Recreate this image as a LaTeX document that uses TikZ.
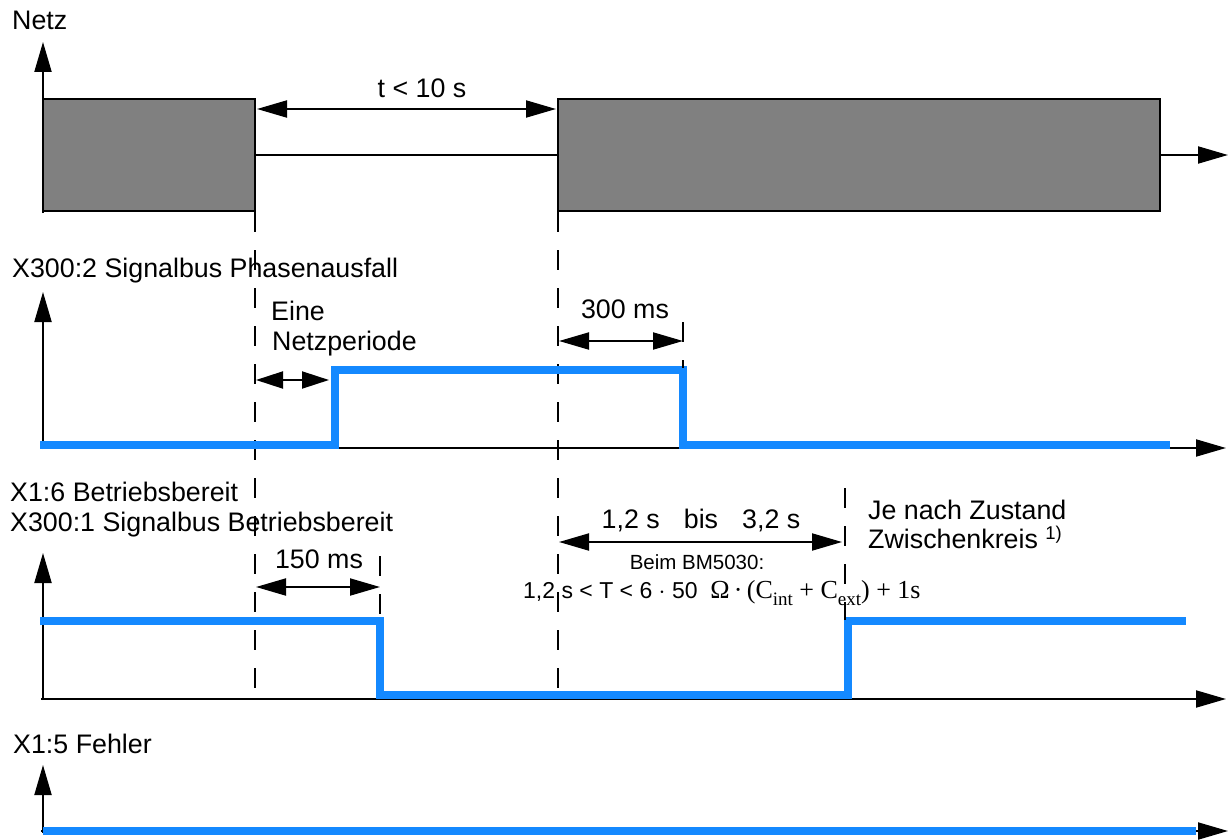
\documentclass[tikz,border=0pt]{standalone}
\usepackage{fontspec}
\setmainfont{Liberation Sans}
\newfontfamily\timesfont{Liberation Serif}
\usetikzlibrary{arrows.meta}
\definecolor{sigblue}{RGB}{20,137,255}
\definecolor{netzgray}{RGB}{128,128,128}
\tikzset{
  axis/.style={line width=2pt, -{Triangle[length=30pt,width=17pt]}},
  dim/.style={line width=2pt, {Triangle[length=30pt,width=17pt]}-{Triangle[length=30pt,width=17pt]}},
  smalldim/.style={line width=2pt, {Triangle[length=27pt,width=17pt]}-{Triangle[length=27pt,width=17pt]}},
  guide/.style={line width=2pt, dash pattern=on 20pt off 18pt},
  sig/.style={line width=8pt, sigblue},
  plain/.style={line width=2pt},
  netzbox/.style={draw, line width=2pt, fill=netzgray, inner sep=0pt, outer sep=0pt, anchor=north west},
  lbl/.style={anchor=base west, inner sep=0pt},
  clbl/.style={anchor=base, inner sep=0pt},
  small/.style={font=\fontsize{20.5}{24}\selectfont}
}
\newcommand{\lowsub}[1]{\raisebox{-7pt}{\fontsize{19}{21}\selectfont #1}}
\begin{document}
\begin{tikzpicture}[x=1pt,y=-1pt,font=\fontsize{26.8}{31}\selectfont]
\useasboundingbox (0,0) rectangle (1231,840);

% ---------------- Panel 1: Netz
\node[lbl] (netzlbl) at (12,30) {Netz};
\coordinate (n0) at (43,213);
\coordinate (ntop) at (43,42);
\draw[axis] (n0) -- (ntop);
\node[netzbox, minimum width=212pt, minimum height=112pt] (r1) at (43,99) {};
\node[netzbox, minimum width=602pt, minimum height=112pt] (r2) at (558,99) {};
\coordinate (nend) at (1228,155);
\draw[plain] (r1.east) -- (r2.west);
\draw[axis] (r2.east) -- (r2.east -| nend);
\coordinate (t1) at (257,109);
\coordinate (t2) at (556,109);
\draw[dim] (t1) -- (t2);
\node[clbl] (tlbl) at (422,98) {t < 10 s};

% guides
\coordinate (g1a) at (255,212);
\coordinate (g1b) at (255,700);
\coordinate (g2a) at (558,212);
\coordinate (g2b) at (558,700);
\draw[guide] (g1a) -- (g1b);
\draw[guide] (g2a) -- (g2b);

% ---------------- Panel 2
\node[lbl] (p2lbl) at (12,277) {X300:2 Signalbus Phasenausfall};
\coordinate (a2b) at (43,449);
\coordinate (a2t) at (43,292);
\coordinate (h2a) at (41,448);
\coordinate (h2b) at (1226,448);
\draw[axis] (a2b) -- (a2t);
\draw[axis] (h2a) -- (h2b);
\coordinate (s2a) at (40,445);
\coordinate (s2b) at (335,445);
\coordinate (s2c) at (335,370);
\coordinate (s2d) at (683,370);
\coordinate (s2e) at (683,445);
\coordinate (s2f) at (1170,445);
\draw[sig] (s2a) -- (s2b) -- (s2c) -- (s2d) -- (s2e) -- (s2f);
\node[lbl] (eine) at (271,320) {Eine};
\node[lbl] (netzper) at (272,350) {Netzperiode};
\coordinate (e1) at (256,380);
\coordinate (e2) at (329,380);
\draw[smalldim] (e1) -- (e2);
\coordinate (g3a) at (683,322);
\coordinate (g3b) at (683,368);
\draw[guide] (g3a) -- (g3b);
\coordinate (m1) at (559,341);
\coordinate (m2) at (683,341);
\draw[dim] (m1) -- (m2);
\node[clbl] (ms300) at (625,318) {300 ms};

% ---------------- Panel 3
\node[lbl] (p3lbl) at (10,501) {X1:6 Betriebsbereit};
\node[lbl] (p3lblb) at (10,531) {X300:1 Signalbus Betriebsbereit};
\coordinate (a3b) at (43,700);
\coordinate (a3t) at (43,553);
\coordinate (h3a) at (41,699);
\coordinate (h3b) at (1226,699);
\draw[axis] (a3b) -- (a3t);
\draw[axis] (h3a) -- (h3b);
\coordinate (s3a) at (40,621);
\coordinate (s3b) at (380,621);
\coordinate (s3c) at (380,695);
\coordinate (s3d) at (848,695);
\coordinate (s3e) at (848,621);
\coordinate (s3f) at (1186,621);
\draw[sig] (s3a) -- (s3b) -- (s3c) -- (s3d) -- (s3e) -- (s3f);
\coordinate (g4a) at (380,556);
\coordinate (g4b) at (380,617);
\draw[guide] (g4a) -- (g4b);
\coordinate (g5a) at (845,488);
\coordinate (g5b) at (845,620);
\draw[guide] (g5a) -- (g5b);
\coordinate (k1) at (256,587);
\coordinate (k2) at (380,587);
\draw[dim] (k1) -- (k2);
\node[clbl] (ms150) at (319,568) {150 ms};
\coordinate (b1) at (559,542);
\coordinate (b2) at (842,542);
\draw[dim] (b1) -- (b2);
\node[clbl] (bis) at (701,528) {1,2 s\hspace{0.9em}bis\hspace{0.9em}3,2 s};
\node[clbl, small] (bm) at (697,569) {Beim BM5030:};
\node[lbl] (form) at (523,598) {\fontsize{23}{27}\selectfont 1,2 s < T < 6 $\cdot$ 50\hspace{0.55em}{\timesfont\fontsize{26}{30}\selectfont Ω\,·\,(C\lowsub{int}\hspace{0.25em}+\hspace{0.25em}C\lowsub{ext})\hspace{0.25em}+\hspace{0.25em}1s}};
\node[lbl] (je) at (868,519) {Je nach Zustand};
\node[lbl] (zw) at (868,548) {Zwischenkreis \raisebox{9pt}{\fontsize{18.5}{20}\selectfont 1)}};

% ---------------- Panel 4
\node[lbl] (p4lbl) at (13,753) {X1:5 Fehler};
\coordinate (a4b) at (43,833);
\coordinate (a4t) at (43,765);
\coordinate (h4a) at (41,831);
\coordinate (h4b) at (1228,831);
\draw[axis] (a4b) -- (a4t);
\draw[axis] (h4a) -- (h4b);
\coordinate (s4a) at (43,831);
\coordinate (s4b) at (1196,831);
\draw[sig] (s4a) -- (s4b);
\end{tikzpicture}
\end{document}
